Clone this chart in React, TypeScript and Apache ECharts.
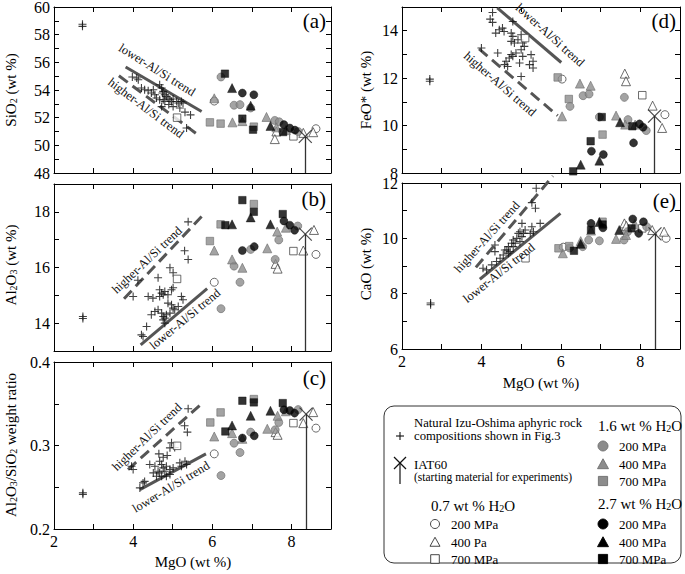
import React, { useEffect, useRef } from "react";
import * as echarts from "echarts";

const FONT = "Liberation Serif, Times New Roman, serif";

// ---------- x axis ----------
const MGO_MIN = 2;
const MGO_MAX = 9;

// ---------- (a) SiO2 ----------
const natA = [[2.72,58.6],[2.72,58.75],[3.98,54.94],[4.09,54.87],[4.13,54.74],[4.21,54.14],[4.29,54.02],[4.38,53.95],[4.46,53.78],[4.51,54.02],[4.55,53.66],[4.67,54.38],[4.72,54.14],[4.76,53.9],[4.74,53.78],[4.8,53.66],[4.84,53.54],[4.76,53.3],[4.8,53.17],[4.88,53.42],[4.93,53.3],[4.97,53.17],[5.01,53.35],[5.1,53.17],[5.14,53.06],[5.22,53.17],[5.26,53.06],[4.59,53.42],[4.67,53.3],[5.31,52.4],[5.45,52.2],[5.35,51.25],[4.72,52.8],[5.01,52.8],[5.18,52.7],[4.9,52.95]];
const A_o1 = [[6.05,53.2],[8.62,51.2]];
const A_t1 = [[7.62,51.0],[7.58,50.45],[8.55,50.95],[8.3,50.9]];
const A_s1 = [[5.11,52.0],[8.05,50.65]];
const A_o2 = [[6.22,54.94],[6.55,52.9],[6.7,52.94],[6.97,52.7],[7.58,51.8],[7.69,51.7],[8.17,51.0]];
const A_t2 = [[6.05,53.4],[6.51,51.66],[6.76,51.75],[7.37,52.05],[7.62,51.3],[7.86,51.1]];
const A_s2 = [[5.94,51.66],[6.21,51.57],[7.05,51.35]];
const A_o3 = [[6.76,53.78],[7.05,53.66],[7.81,51.5],[7.96,51.25],[8.09,51.1]];
const A_t3 = [[6.5,54.14],[6.97,52.87],[7.47,51.4]];
const A_s3 = [[6.32,55.18],[6.76,51.93],[7.03,51.13],[7.79,50.96]];
const iatA = [8.35,50.65];
const lowerA = [[3.81,55.66],[5.73,52.45]];
const higherA = [[3.64,55.03],[5.67,50.69]];

// ---------- (b) Al2O3 ----------
const natB = [[2.73,14.24],[2.73,14.17],[5.39,17.64],[5.3,16.6],[5.39,16.29],[4.93,15.99],[5.01,15.81],[4.63,15.63],[4.12,15.54],[4.0,14.96],[4.38,14.96],[4.5,14.9],[4.67,15.2],[4.72,15.08],[4.67,14.96],[4.76,15.02],[4.8,15.14],[4.88,15.02],[4.97,15.2],[5.01,15.27],[5.22,14.96],[5.26,14.84],[4.88,14.72],[4.97,14.66],[5.01,14.54],[5.05,14.48],[5.14,14.6],[4.46,14.3],[4.55,14.42],[4.63,14.48],[4.72,14.36],[4.76,14.24],[4.8,14.18],[4.84,14.3],[4.93,14.36],[4.76,14.12],[4.8,14.0],[4.34,13.88],[4.21,13.58],[4.25,13.52]];
const B_o1 = [[6.05,15.47],[8.62,16.47]];
const B_t1 = [[8.57,17.35],[8.3,16.61],[7.6,16.13],[7.65,15.96]];
const B_s1 = [[5.11,15.59],[8.05,16.59]];
const B_o2 = [[6.22,14.52],[6.55,16.05],[6.7,15.47],[6.97,16.65],[7.59,16.29],[7.68,16.99],[8.16,17.49]];
const B_t2 = [[6.05,16.61],[6.5,16.29],[6.76,15.99],[7.39,16.69],[7.64,17.29],[7.86,17.43]];
const B_s2 = [[5.94,16.95],[6.21,17.55],[7.05,18.28]];
const B_o3 = [[6.76,16.61],[7.06,16.75],[7.81,17.67],[7.96,17.52],[8.08,17.34]];
const B_t3 = [[6.5,17.55],[6.97,17.8],[7.47,17.55]];
const B_s3 = [[6.33,17.52],[6.76,18.42],[7.05,18.0],[7.78,17.92]];
const iatB = [8.35,17.2];
const lowerB = [[4.19,13.22],[5.87,15.24]];
const higherB = [[3.77,14.88],[5.73,17.83]];

// ---------- (c) Al2O3/SiO2 ----------
const natC = [[2.73,0.2435],[2.73,0.2415],[5.39,0.344],[5.3,0.3236],[5.37,0.316],[4.97,0.3032],[4.93,0.2972],[5.05,0.2976],[4.65,0.29],[3.96,0.2752],[4.0,0.2712],[4.42,0.2772],[4.55,0.2752],[4.67,0.2812],[4.72,0.2772],[4.76,0.2732],[4.63,0.2692],[4.67,0.2672],[4.8,0.2692],[4.84,0.2752],[4.93,0.2712],[5.01,0.2732],[5.18,0.2792],[5.22,0.2752],[5.31,0.2812],[5.35,0.2772],[4.51,0.2672],[4.59,0.2632],[4.72,0.2632],[4.84,0.2632],[4.93,0.2652],[4.25,0.2552],[4.17,0.2492],[4.29,0.257],[4.76,0.286],[4.86,0.288]];
const C_o1 = [[6.05,0.29],[8.62,0.3208]];
const C_t1 = [[8.55,0.34],[8.3,0.3268],[7.6,0.316],[7.65,0.3128]];
const C_s1 = [[5.11,0.2996],[8.05,0.3268]];
const C_o2 = [[6.22,0.264],[6.55,0.3028],[6.7,0.2916],[6.97,0.316],[7.59,0.3188],[7.68,0.3276],[8.17,0.343]];
const C_t2 = [[6.05,0.3108],[6.5,0.3148],[6.76,0.308],[7.39,0.32],[7.65,0.3356],[7.86,0.341]];
const C_s2 = [[5.95,0.3276],[6.21,0.3396],[7.05,0.3556]];
const C_o3 = [[6.76,0.309],[7.06,0.3116],[7.81,0.3428],[7.96,0.342],[8.08,0.3388]];
const C_t3 = [[6.5,0.324],[6.97,0.3356],[7.47,0.3416]];
const C_s3 = [[6.33,0.3168],[6.76,0.3536],[7.05,0.3516],[7.78,0.3508]];
const iatC = [8.37,0.3376];
const lowerC = [[4.17,0.2472],[5.84,0.29]];
const higherC = [[3.87,0.2712],[5.73,0.35]];

// ---------- (d) FeO* ----------
const natD = [[2.7,11.96],[2.7,11.87],[4.28,14.77],[4.22,14.49],[4.28,14.35],[4.36,13.9],[4.45,14.04],[4.53,14.11],[4.57,13.97],[4.79,14.39],[4.75,13.9],[4.79,13.76],[4.75,13.55],[4.83,13.48],[4.92,13.62],[5.0,13.83],[5.04,13.48],[5.08,13.34],[5.0,13.2],[4.87,13.06],[4.79,12.92],[4.7,12.85],[4.62,12.71],[4.58,12.57],[4.66,12.49],[4.96,12.64],[5.04,12.92],[5.25,12.99],[5.3,12.71],[5.3,12.43],[5.21,12.57],[4.41,13.06],[5.0,12.07],[4.0,13.27],[4.75,13.0]];
const D_o1 = [[6.03,11.96],[8.62,10.46]];
const D_t1 = [[7.61,12.19],[7.64,11.87],[8.31,10.84],[8.55,9.9]];
const D_s1 = [[5.1,13.69],[8.05,11.28]];
const D_o2 = [[6.23,10.81],[6.56,11.26],[6.71,11.33],[6.97,10.36],[7.6,11.19],[7.69,10.25],[8.15,9.79]];
const D_t2 = [[6.03,10.39],[6.48,11.77],[6.75,11.68],[7.39,10.42],[7.62,10.04],[7.87,10.04]];
const D_s2 = [[5.92,12.03],[6.2,11.12],[7.05,9.62]];
const D_o3 = [[6.77,8.92],[7.07,8.78],[7.83,9.27],[7.98,10.07],[8.07,9.93]];
const D_t3 = [[6.5,8.35],[6.97,8.52],[7.49,10.14]];
const D_s3 = [[6.31,8.07],[6.75,9.34],[7.03,10.36],[7.8,9.97]];
const iatD = [8.36,10.4];
const lowerD = [[4.4,14.96],[6.01,12.66]];
const higherD = [[3.94,13.23],[5.92,10.42]];

// ---------- (e) CaO ----------
const natE = [[2.72,7.66],[2.72,7.6],[5.38,11.81],[5.27,11.29],[5.36,11.09],[5.02,10.54],[5.48,10.54],[5.27,10.42],[5.31,10.24],[5.23,10.18],[4.93,10.18],[4.97,10.24],[5.06,10.18],[5.02,10.06],[4.89,10.0],[4.8,9.94],[4.76,9.82],[4.68,9.7],[4.64,9.58],[4.72,9.52],[4.55,9.4],[4.47,9.28],[4.38,9.16],[4.26,9.04],[4.13,8.86],[4.04,8.92],[4.34,9.52],[4.8,9.7],[4.97,9.88],[4.85,9.82],[4.59,9.58],[4.68,9.46],[4.34,9.76],[5.1,10.3]];
const E_o1 = [[6.06,9.68],[8.65,10.0]];
const E_t1 = [[7.6,10.54],[7.65,10.45],[8.3,10.3],[8.6,10.24]];
const E_s1 = [[5.11,9.28],[8.05,10.36]];
const E_o2 = [[6.22,9.65],[6.55,9.7],[6.7,9.94],[6.97,9.91],[7.59,9.94],[7.68,10.24],[8.16,10.42]];
const E_t2 = [[6.05,9.46],[6.5,9.9],[6.76,10.28],[7.39,9.98],[7.64,10.12],[7.86,10.52]];
const E_s2 = [[5.94,9.64],[6.21,9.72],[7.05,10.6]];
const E_o3 = [[6.76,10.54],[7.06,10.38],[7.81,10.7],[7.96,10.18],[8.08,10.6]];
const E_t3 = [[6.5,9.8],[6.97,10.59],[7.47,10.3]];
const E_s3 = [[6.33,9.55],[6.76,10.3],[7.05,10.5],[7.78,10.36]];
const iatE = [8.37,10.16];
const lowerE = [[3.96,8.52],[5.99,10.9]];
const higherE = [[3.86,8.95],[5.8,12.25]];

// ---------- styles ----------
const OPEN = { color: "#ffffff", borderColor: "#333", borderWidth: 0.9 };
const GRAY = { color: "#8c8c8c", borderColor: "#6e6e6e", borderWidth: 0.8 };
const BLACK = { color: "#000", borderColor: "#000", borderWidth: 0.5 };
const KINDS = [
  { symbol: "circle", size: 8, style: OPEN },
  { symbol: "triangle", size: 9, style: OPEN },
  { symbol: "rect", size: 7.5, style: OPEN },
  { symbol: "circle", size: 8, style: GRAY },
  { symbol: "triangle", size: 9, style: GRAY },
  { symbol: "rect", size: 7.5, style: GRAY },
  { symbol: "circle", size: 8, style: BLACK },
  { symbol: "triangle", size: 9, style: BLACK },
  { symbol: "rect", size: 7.5, style: BLACK },
];
const PLUS = "path://M5,0L5,10M0,5L10,5";
const XSYM = "path://M0,0L10,10M10,0L0,10";

const evenLabel = (v: number) => {
  const r = Math.round(v);
  return Math.abs(v - r) < 1e-6 && r % 2 === 0 ? String(r) : "";
};
const ratioLabel = (v: number) => {
  const r = Math.round(v * 10);
  return Math.abs(v * 10 - r) < 1e-6 ? (r / 10).toFixed(1) : "";
};

const panels = [
  { grid: { left: 54, top: 7, width: 277, height: 166 }, yMin: 48, yMax: 60, yInt: 1, fmt: evenLabel, showX: false,
    nat: natA, exps: [A_o1, A_t1, A_s1, A_o2, A_t2, A_s2, A_o3, A_t3, A_s3], iat: iatA,
    lower: lowerA, higher: higherA, lowerLbl: [157, 70, -32], higherLbl: [146, 108, -37], tag: "(a)", tagXY: [326, 21] },
  { grid: { left: 54, top: 184, width: 277, height: 167 }, yMin: 13, yMax: 19, yInt: 1, fmt: evenLabel, showX: false,
    nat: natB, exps: [B_o1, B_t1, B_s1, B_o2, B_t2, B_s2, B_o3, B_t3, B_s3], iat: iatB,
    lower: lowerB, higher: higherB, lowerLbl: [185, 319, 39.5], higherLbl: [147, 260, 43.5], tag: "(b)", tagXY: [326, 199] },
  { grid: { left: 54, top: 362, width: 277, height: 167 }, yMin: 0.2, yMax: 0.4, yInt: 0.05, fmt: ratioLabel, showX: true,
    nat: natC, exps: [C_o1, C_t1, C_s1, C_o2, C_t2, C_s2, C_o3, C_t3, C_s3], iat: iatC,
    lower: lowerC, higher: higherC, lowerLbl: [171, 487, 31], higherLbl: [147, 437, 44], tag: "(c)", tagXY: [326, 378] },
  { grid: { left: 402, top: 7, width: 278, height: 166 }, yMin: 8, yMax: 15, yInt: 1, fmt: evenLabel, showX: false,
    nat: natD, exps: [D_o1, D_t1, D_s1, D_o2, D_t2, D_s2, D_o3, D_t3, D_s3], iat: iatD,
    lower: lowerD, higher: higherD, lowerLbl: [550, 35, -42], higherLbl: [500, 84, -41], tag: "(d)", tagXY: [676, 21] },
  { grid: { left: 402, top: 183, width: 278, height: 166 }, yMin: 6, yMax: 12, yInt: 1, fmt: evenLabel, showX: true,
    nat: natE, exps: [E_o1, E_t1, E_s1, E_o2, E_t2, E_s2, E_o3, E_t3, E_s3], iat: iatE,
    lower: lowerE, higher: higherE, lowerLbl: [499, 273, 38.7], higherLbl: [487, 237, 48], tag: "(e)", tagXY: [676, 201] },
];

const TREND_COLOR = "#555";

function buildOption() {
  const grids = panels.map((p) => ({ ...p.grid, containLabel: false, outerBoundsMode: "none" }));
  const axisCommon = {
    type: "value",
    splitLine: { show: false },
    axisLine: { show: true, onZero: false, lineStyle: { color: "#000", width: 1 } },
    axisTick: { show: true, inside: true, length: 5, lineStyle: { color: "#000", width: 1 } },
  };
  const labelStyle = { fontFamily: FONT, fontSize: 16, color: "#000", margin: 4, hideOverlap: false };
  const xAxes: any[] = [];
  const yAxes: any[] = [];
  panels.forEach((p, i) => {
    xAxes.push({
      ...axisCommon, gridIndex: i, position: "bottom", min: MGO_MIN, max: MGO_MAX, interval: 1,
      axisLabel: { show: p.showX, formatter: evenLabel, ...labelStyle },
    });
    yAxes.push({
      ...axisCommon, gridIndex: i, position: "left", min: p.yMin, max: p.yMax, interval: p.yInt,
      axisLabel: { show: true, formatter: p.fmt, ...labelStyle },
    });
  });
  panels.forEach((p, i) => {
    xAxes.push({ ...axisCommon, gridIndex: i, position: "top", min: MGO_MIN, max: MGO_MAX, interval: 1, axisLabel: { show: false } });
    yAxes.push({ ...axisCommon, gridIndex: i, position: "right", min: p.yMin, max: p.yMax, interval: p.yInt, axisLabel: { show: false } });
  });

  const series: any[] = [];
  panels.forEach((p, i) => {
    const ax = { xAxisIndex: i, yAxisIndex: i };
    series.push({
      type: "line", ...ax, data: p.lower, symbol: "none", clip: false, silent: true, z: 2,
      lineStyle: { color: TREND_COLOR, width: 3, type: "solid" },
    });
    series.push({
      type: "line", ...ax, data: p.higher, symbol: "none", clip: false, silent: true, z: 2,
      lineStyle: { color: TREND_COLOR, width: 3, type: [11, 6] },
    });
    series.push({
      type: "scatter", ...ax, data: p.nat, symbol: PLUS, symbolSize: 8, silent: true, z: 3,
      itemStyle: { color: "none", borderColor: "#111", borderWidth: 1.1 },
    });
    p.exps.forEach((d, k) => {
      const m = KINDS[k];
      series.push({ type: "scatter", ...ax, data: d, symbol: m.symbol, symbolSize: m.size, itemStyle: m.style, silent: true, z: 4 });
    });
    series.push({
      type: "scatter", ...ax, data: [p.iat], symbol: XSYM, symbolSize: 13, silent: true, z: 5,
      itemStyle: { color: "none", borderColor: "#222", borderWidth: 1.3 },
      markLine: {
        silent: true, symbol: ["none", "none"], animation: false, label: { show: false },
        lineStyle: { color: "#333", width: 1.3, type: "solid" },
        data: [[{ coord: p.iat }, { coord: [p.iat[0], p.yMin] }]],
      },
    });
  });

  const nameRich = {
    n: { fontSize: 15, fontFamily: FONT, color: "#000" },
    s: { fontSize: 10, fontFamily: FONT, color: "#000", verticalAlign: "bottom" },
  };
  const vText = (x: number, y: number, text: string) => ({
    type: "text", x, y, rotation: Math.PI / 2, silent: true,
    style: { text, rich: nameRich, align: "center", verticalAlign: "middle", fill: "#000" },
  });
  const hText = (x: number, y: number, text: string, size = 15, align = "center") => ({
    type: "text", x, y, silent: true,
    style: { text, fontFamily: FONT, fontSize: size, align, verticalAlign: "middle", fill: "#000" },
  });
  const rText = (lbl: number[], text: string) => ({
    type: "text", x: lbl[0], y: lbl[1], rotation: (lbl[2] * Math.PI) / 180, silent: true, z: 10,
    style: { text, fontFamily: FONT, fontSize: 12.5, align: "center", verticalAlign: "middle", fill: "#111" },
  });
  const richText = (x: number, y: number, text: string) => ({
    type: "text", x, y, silent: true,
    style: { text, rich: { n: { fontSize: 15, fontFamily: FONT }, s: { fontSize: 10, fontFamily: FONT, verticalAlign: "bottom" } }, align: "left", verticalAlign: "middle", fill: "#000" },
  });

  const tri = (cx: number, cy: number, r: number, fill: string, stroke: string) => ({
    type: "polygon", silent: true,
    shape: { points: [[cx - r, cy + r * 0.85], [cx + r, cy + r * 0.85], [cx, cy - r * 0.95]] },
    style: { fill, stroke, lineWidth: 0.9 },
  });
  const circ = (cx: number, cy: number, r: number, fill: string, stroke: string) => ({
    type: "circle", silent: true, shape: { cx, cy, r }, style: { fill, stroke, lineWidth: 0.9 },
  });
  const sq = (cx: number, cy: number, r: number, fill: string, stroke: string) => ({
    type: "rect", silent: true, shape: { x: cx - r, y: cy - r, width: 2 * r, height: 2 * r }, style: { fill, stroke, lineWidth: 0.9 },
  });
  const ln = (x1: number, y1: number, x2: number, y2: number, w = 1.1) => ({
    type: "line", silent: true, shape: { x1, y1, x2, y2 }, style: { stroke: "#111", lineWidth: w },
  });

  const graphic: any[] = [
    vText(11, 90, "{n|SiO}{s|2}{n| (wt %)}"),
    vText(11, 265, "{n|Al}{s|2}{n|O}{s|3}{n| (wt %)}"),
    vText(11, 445, "{n|Al}{s|2}{n|O}{s|3}{n|/SiO}{s|2}{n| weight ratio}"),
    vText(366, 90, "{n|FeO* (wt %)}"),
    vText(366, 264, "{n|CaO (wt %)}"),
    hText(193, 562, "MgO (wt %)"),
    hText(541, 383, "MgO (wt %)"),
    ...panels.map((p) => hText(p.tagXY[0], p.tagXY[1], p.tag, 21, "right")),
    ...panels.map((p) => rText(p.lowerLbl, "lower-Al/Si trend")),
    ...panels.map((p) => rText(p.higherLbl, "higher-Al/Si trend")),
    // legend box
    { type: "rect", silent: true, shape: { x: 384, y: 406, width: 297, height: 157, r: 10 }, style: { fill: "none", stroke: "#333", lineWidth: 1 } },
    ln(396, 436, 404, 436), ln(400, 432, 400, 440),
    hText(414, 423, "Natural Izu-Oshima aphyric rock", 12.7, "left"),
    hText(414, 436, "compositions shown in Fig.3", 12.7, "left"),
    ln(394, 457, 406, 469, 1.2), ln(406, 457, 394, 469, 1.2), ln(400, 463, 400, 484, 1.2),
    hText(414, 464, "IAT60", 13, "left"),
    hText(414, 477, "(starting material for experiments)", 11.5, "left"),
    richText(431, 506, "{n|0.7 wt % H}{s|2}{n|O}"),
    circ(435, 524, 4.5, "#fff", "#333"), hText(451, 524, "200 MPa", 13, "left"),
    tri(435, 542, 5, "#fff", "#333"), hText(451, 542, "400 Pa", 13, "left"),
    sq(435, 559, 4.3, "#fff", "#333"), hText(451, 559, "700 MPa", 13, "left"),
    richText(598, 426, "{n|1.6 wt % H}{s|2}{n|O}"),
    circ(603, 446, 5, "#8c8c8c", "#6e6e6e"), hText(619, 446, "200 MPa", 13, "left"),
    tri(603, 464, 5.5, "#8c8c8c", "#6e6e6e"), hText(619, 464, "400 MPa", 13, "left"),
    sq(603, 481, 4.6, "#8c8c8c", "#6e6e6e"), hText(619, 481, "700 MPa", 13, "left"),
    richText(598, 504, "{n|2.7 wt % H}{s|2}{n|O}"),
    circ(603, 524, 5, "#000", "#000"), hText(619, 524, "200 MPa", 13, "left"),
    tri(603, 542, 5.5, "#000", "#000"), hText(619, 542, "400 MPa", 13, "left"),
    sq(603, 559, 4.6, "#000", "#000"), hText(619, 559, "700 MPa", 13, "left"),
  ];

  return {
    animation: false,
    backgroundColor: "#ffffff",
    textStyle: { fontFamily: FONT },
    grid: grids,
    xAxis: xAxes,
    yAxis: yAxes,
    series,
    graphic,
  };
}

export default function App() {
  const ref = useRef<HTMLDivElement>(null);
  useEffect(() => {
    if (!ref.current) return;
    const chart = echarts.init(ref.current, undefined, { renderer: "svg" });
    chart.setOption(buildOption() as any);
    return () => chart.dispose();
  }, []);
  return (
    <div
      ref={ref}
      style={{ position: "fixed", left: 0, top: 0, width: 685, height: 574, background: "#fff" }}
    />
  );
}
